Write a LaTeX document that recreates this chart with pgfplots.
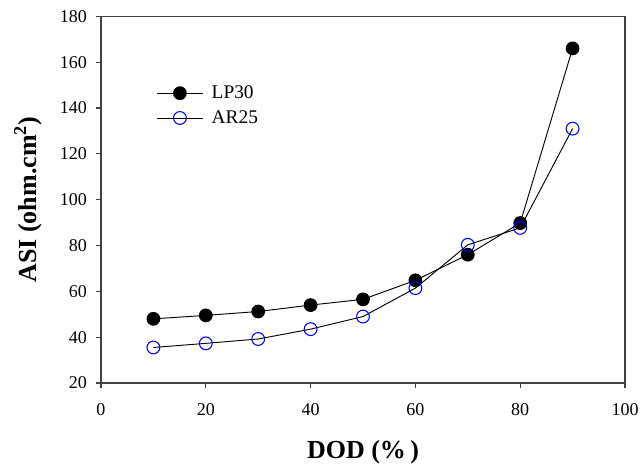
\documentclass[border=0pt]{standalone}
\usepackage{pgfplots}
\pgfplotsset{compat=1.18}
\usepackage{fontspec}
\setmainfont{Liberation Serif}
\begin{document}
\begin{tikzpicture}
\begin{axis}[
  name=ax,
  scale only axis,
  width=393pt, height=275pt,
  xmin=0, xmax=100, ymin=20, ymax=180,
  xtick={0,20,...,100}, ytick={20,40,...,180},
  tick align=outside, tick pos=left,
  major tick length=4pt,
  axis line style={line width=0.8pt, black!75},
  every tick/.style={line width=0.8pt, black!75},
  tick label style={font=\fontsize{13.5}{15}\selectfont},
  yticklabel style={xshift=-3pt},
  xticklabel style={yshift=-8pt},
  /pgf/number format/assume math mode=true,
  xlabel={\textbf{DOD (\%\,)}},
  ylabel={\textbf{ASI (ohm.cm$^{\mathbf{2}}$)}},
  label style={font=\fontsize{19.5}{22}\selectfont},
  xlabel style={at={(axis description cs:0.5,-0.1875)}, anchor=center},
  ylabel style={at={(axis description cs:-0.1393,0.5)}, anchor=center},
  legend image code/.code={\draw[mark repeat=2,mark phase=2,#1] plot coordinates {(0pt,0pt)(17pt,0pt)(34pt,0pt)};},
  legend style={at={(axis cs:10.6,151)}, anchor=north west, draw=none, fill=none,
    font=\fontsize{14.5}{16}\selectfont, row sep=3.5pt, inner sep=0pt,
    legend cell align=left},
]
\addplot[black, line width=0.7pt, mark=*, mark size=4.8pt, mark options={fill=black}] coordinates {
(10,48.0) (20,49.5) (30,51.2) (40,54.0) (50,56.5) (60,64.8) (70,76.0) (80,89.8) (90,166.0)};
\addlegendentry{\hspace{4.5pt}LP30}
\addplot[black, line width=0.7pt, mark=o, mark size=4.8pt, mark options={blue, line width=0.8pt, fill=none}] coordinates {
(10,35.5) (20,37.3) (30,39.2) (40,43.5) (50,49.0) (60,61.4) (70,80.3) (80,87.7) (90,131.0)};
\addlegendentry{\hspace{4.5pt}AR25}
\end{axis}
\pgfresetboundingbox
\path[use as bounding box] (ax.south west) ++(-75.75pt,-66pt) rectangle ++(481.5pt,353.25pt);
\end{tikzpicture}
\end{document}
